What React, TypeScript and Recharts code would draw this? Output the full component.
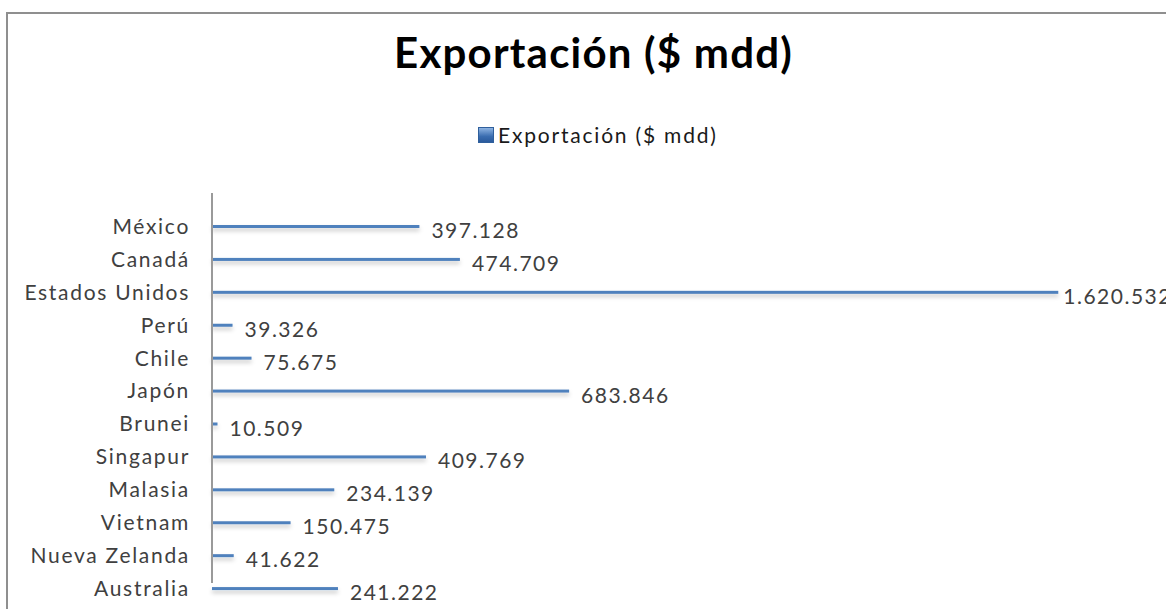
import React from 'react';
import { BarChart, Bar, XAxis, YAxis, LabelList, Legend } from 'recharts';

const categories = ['México', 'Canadá', 'Estados Unidos', 'Perú', 'Chile', 'Japón', 'Brunei', 'Singapur', 'Malasia', 'Vietnam', 'Nueva Zelanda', 'Australia'];
const exportValues = [397128, 474709, 1620532, 39326, 75675, 683846, 10509, 409769, 234139, 150475, 41622, 241222];
const seriesName = 'Exportación ($ mdd)';
const chartTitle = 'Exportación ($ mdd)';

const data = categories.map((name, i) => ({ name, value: exportValues[i] }));

const FONT = 'Lato, "Open Sans", sans-serif';
const fmt = (v: number) => String(v).replace(/\B(?=(\d{3})+(?!\d))/g, '.');

const BarShape = (props: any) => {
  const { x, y, width, height } = props;
  return <rect x={x} y={y} width={width} height={height} fill="#4F81BD" filter="url(#barShadow)" />;
};

const ValueLabel = (props: any) => {
  const { x, y, width, height, value } = props;
  // long bars near the chart edge get a tighter label gap (as in the original)
  const gap = width > 800 ? 5 : 12;
  return (
    <text x={x + width + gap} y={y + height / 2 + 3} dominantBaseline="central" fill="#404040" fontSize={21} fontFamily={FONT} letterSpacing={1.5}>
      {fmt(value)}
    </text>
  );
};

const LegendContent = () => (
  <div style={{ display: 'flex', alignItems: 'center', fontFamily: FONT, fontSize: 21, lineHeight: '26px', color: '#1a1a1a', whiteSpace: 'nowrap' }}>
    <span style={{ display: 'inline-block', width: 16, height: 16, marginRight: 4, boxSizing: 'border-box', border: '1px solid #2f5f9c', background: 'linear-gradient(#8db3e2, #3a6db0 60%, #2a5a9c)' }} />
    <span style={{ letterSpacing: 1.8 }}>{seriesName}</span>
  </div>
);

export default function App() {
  return (
    <div style={{ position: 'absolute', left: 0, top: 0, width: 1166, height: 609, overflow: 'hidden', background: '#fff' }}>
      <svg width={0} height={0} style={{ position: 'absolute' }}>
        <defs>
          <filter id="barShadow" filterUnits="userSpaceOnUse" x={0} y={0} width={1400} height={800}>
            <feDropShadow dx={0} dy={3} stdDeviation={2} floodColor="#000" floodOpacity={0.22} />
          </filter>
        </defs>
      </svg>
      <div style={{ position: 'absolute', left: 6, top: 12, width: 1400, height: 800, borderTop: '2px solid #8f8f8f', borderLeft: '2px solid #8f8f8f' }} />
      <svg width={1166} height={609} style={{ position: 'absolute', left: 0, top: 0 }}>
        <text x={593.5} y={68} textAnchor="middle" fontFamily={FONT} fontWeight={700} fontSize={42} letterSpacing={1.2} fill="#000">
          {chartTitle}
        </text>
      </svg>
      <div style={{ position: 'absolute', left: 0, top: 0 }}>
        <BarChart
          width={1200}
          height={650}
          data={data}
          layout="vertical"
          margin={{ top: 193, right: 48, bottom: 67, left: 0 }}
        >
          <XAxis type="number" hide domain={[0, 1800000]} />
          <YAxis
            type="category"
            dataKey="name"
            width={212}
            padding={{ top: 17, bottom: -22 }}
            tickLine={false}
            tickSize={6}
            tickMargin={16}
            axisLine={{ stroke: '#9a9a9a', strokeWidth: 2 }}
            tick={{ fill: '#404040', fontSize: 21, fontFamily: FONT, letterSpacing: 1.7 }}
            interval={0}
          />
          <Legend
            verticalAlign="middle"
            align="center"
            layout="horizontal"
            content={<LegendContent />}
            wrapperStyle={{ top: 122, left: 478, width: 'auto', height: 'auto' }}
          />
          <Bar dataKey="value" name={seriesName} barSize={3} shape={<BarShape />} isAnimationActive={false}>
            <LabelList dataKey="value" content={<ValueLabel />} />
          </Bar>
        </BarChart>
      </div>
    </div>
  );
}
